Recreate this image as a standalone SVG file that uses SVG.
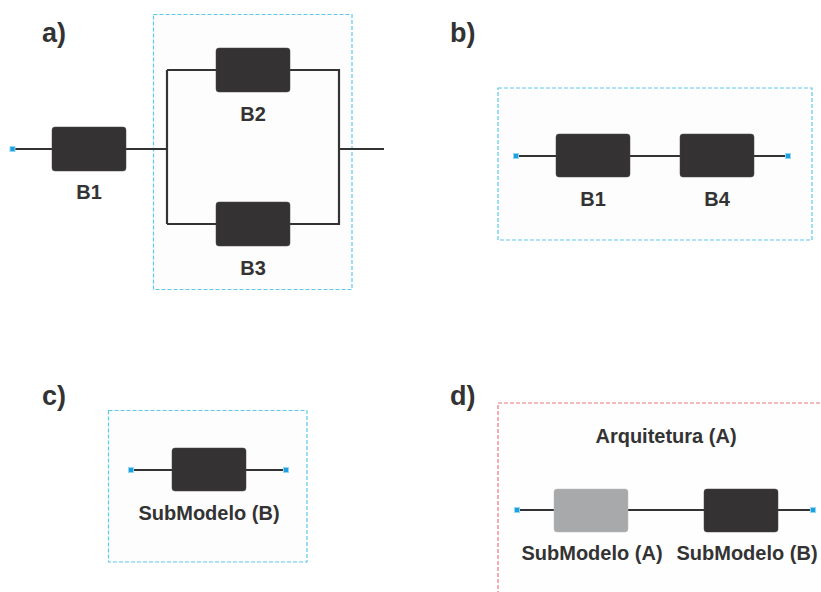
<svg xmlns="http://www.w3.org/2000/svg" width="821" height="592" viewBox="0 0 821 592">
<style>
.frame{fill:#fdfdfd;stroke:#5cc8ea;stroke-width:1.2;stroke-dasharray:4 2}
.frame-red{fill:#fefefe;stroke:#e8777f;stroke-width:1.2;stroke-dasharray:4 2}
.blk{fill:#343233;stroke:#444;stroke-width:0.5}
.blk-grey{fill:#a8a9ab;stroke:#bbb;stroke-width:0.5}
.wire{fill:none;stroke:#333;stroke-width:2.2}
.pt{fill:#1f9ee0;stroke:#8fd6ee;stroke-width:1}
.lbl{font-family:"Liberation Sans",Arial,sans-serif;font-weight:bold;font-size:20px;fill:#333;text-anchor:middle}
.tag{font-family:"Liberation Sans",Arial,sans-serif;font-weight:bold;font-size:27px;fill:#333}
</style>
<rect width="821" height="592" fill="#ffffff"/>

<!-- panel frames -->
<rect class="frame" x="153.5" y="14.5" width="198.5" height="275"/>
<rect class="frame" x="498" y="88" width="314" height="152"/>
<rect class="frame" x="108.5" y="410.5" width="198.5" height="151.5"/>
<rect class="frame-red" x="498" y="403" width="340" height="200"/>

<text class="tag" x="42" y="42">a)</text>
<text class="tag" x="450" y="42">b)</text>
<text class="tag" x="42" y="405">c)</text>
<text class="tag" x="450" y="405">d)</text>

<g id="connectors">
  <!-- a -->
  <path class="wire" d="M12,149 H167"/>
  <path class="wire" d="M167,70 V224"/>
  <path class="wire" d="M167,70 H339 V224 H167"/>
  <path class="wire" d="M339,149 H384"/>
  <!-- b -->
  <path class="wire" d="M516,156 H788"/>
  <!-- c -->
  <path class="wire" d="M131,470 H286"/>
  <!-- d -->
  <path class="wire" d="M517,510 H813"/>
</g>

<g id="points">
  <rect class="pt" x="10" y="146.5" width="5" height="5"/>
  <rect class="pt" x="513.5" y="153.5" width="5" height="5"/>
  <rect class="pt" x="785.5" y="153.5" width="5" height="5"/>
  <rect class="pt" x="128.5" y="467.5" width="5" height="5"/>
  <rect class="pt" x="283.5" y="467.5" width="5" height="5"/>
  <rect class="pt" x="514.5" y="507.5" width="5" height="5"/>
  <rect class="pt" x="810.5" y="507.5" width="5" height="5"/>
</g>

<g id="a-B1">
  <rect class="blk" x="52" y="127" width="74" height="44" rx="3"/>
  <text class="lbl" x="89" y="199">B1</text>
</g>
<g id="a-B2">
  <rect class="blk" x="216" y="48" width="74" height="44" rx="3"/>
  <text class="lbl" x="253" y="121">B2</text>
</g>
<g id="a-B3">
  <rect class="blk" x="216" y="202" width="74" height="44" rx="3"/>
  <text class="lbl" x="253" y="275">B3</text>
</g>

<g id="b-B1">
  <rect class="blk" x="556" y="134" width="74" height="43" rx="3"/>
  <text class="lbl" x="593" y="206">B1</text>
</g>
<g id="b-B4">
  <rect class="blk" x="680" y="134" width="74" height="43" rx="3"/>
  <text class="lbl" x="717" y="206">B4</text>
</g>

<g id="c-SubModeloB">
  <rect class="blk" x="172" y="448" width="74" height="43" rx="3"/>
  <text class="lbl" x="209" y="520">SubModelo (B)</text>
</g>

<g id="d-Arquitetura">
  <text class="lbl" x="666" y="443">Arquitetura (A)</text>
</g>
<g id="d-SubModeloA">
  <rect class="blk-grey" x="554" y="489" width="74" height="43" rx="3"/>
  <text class="lbl" x="592" y="560">SubModelo (A)</text>
</g>
<g id="d-SubModeloB">
  <rect class="blk" x="704" y="489" width="74" height="43" rx="3"/>
  <text class="lbl" x="747" y="560">SubModelo (B)</text>
</g>
</svg>
